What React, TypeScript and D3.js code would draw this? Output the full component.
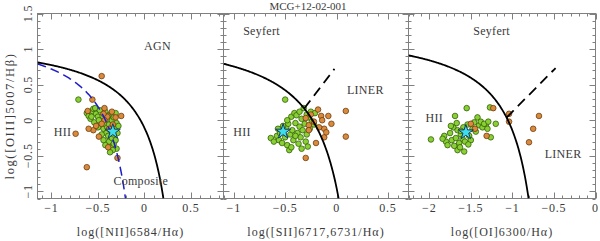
import React from "react";
import * as d3 from "d3";

// ---------- data ----------
const TITLE = "MCG+12-02-001";
const Y_DOMAIN: [number, number] = [-1.1, 1.5];
const X_DOMAIN_NII: [number, number] = [-1.15, 0.85];
const X_DOMAIN_SII: [number, number] = [-1.1, 0.7];
const X_DOMAIN_OI: [number, number] = [-2.25, 0];

const X_LABELS_NII = [-1, -0.5, 0, 0.5];
const X_LABELS_SII = [-1, -0.5, 0, 0.5];
const X_LABELS_OI = [-2, -1.5, -1, -0.5, 0];
const Y_LABELS = [-1, -0.5, 0, 0.5, 1, 1.5];

const X_TITLES = ["log([NII]6584/H\u03b1)", "log([SII]6717,6731/H\u03b1)", "log([OI]6300/H\u03b1)"];
const Y_TITLE = "log([OIII]5007/H\u03b2)";

// demarcation constants: y = a/(x - b) + c
const KEWLEY_NII = [0.61, 0.47, 1.19];
const KAUFF_NII = [0.61, 0.05, 1.3];
const KEWLEY_SII = [0.72, 0.32, 1.3];
const KEWLEY_OI = [0.73, -0.505, 1.33];
// Seyfert/LINER lines: y = m x + q, up to xEnd
const SEYLIN_SII = [1.89, 0.76, -0.02];
const SEYLIN_OI = [1.18, 1.3, -0.48];

const niiGreen: [number, number][] = [
  [-0.71, 0.29], [-0.62, 0.1], [-0.6, 0.06], [-0.58, 0.02], [-0.56, 0.13], [-0.55, 0.16],
  [-0.53, 0.17], [-0.52, 0.09], [-0.5, 0.05], [-0.48, 0.14], [-0.47, -0.02], [-0.46, -0.08],
  [-0.45, 0.06], [-0.44, -0.12], [-0.43, -0.05], [-0.42, 0.12], [-0.41, -0.18], [-0.4, -0.1],
  [-0.4, 0.02], [-0.39, -0.22], [-0.38, -0.06], [-0.38, -0.3], [-0.37, 0.08], [-0.36, -0.14],
  [-0.36, -0.38], [-0.35, -0.25], [-0.35, 0.0], [-0.34, -0.08], [-0.33, -0.2], [-0.33, -0.33],
  [-0.32, -0.12], [-0.31, 0.1], [-0.31, -0.28], [-0.3, -0.04], [-0.3, -0.4], [-0.29, -0.18],
  [-0.28, -0.08], [-0.34, -0.42], [-0.44, -0.28], [-0.46, -0.2], [-0.5, -0.1], [-0.54, -0.03],
  [-0.57, 0.05], [-0.49, 0.0], [-0.42, -0.35], [-0.39, 0.06], [-0.33, 0.04], [-0.37, -0.45],
];
const niiOrange: [number, number][] = [
  [-0.46, 0.62], [-0.56, 0.29], [-0.74, -0.19], [-0.62, -0.66], [-0.29, -0.53], [-0.25, 0.06],
  [-0.43, 0.17], [-0.61, 0.13], [-0.55, -0.14], [-0.49, -0.23], [-0.31, 0.04], [-0.4, 0.05],
  [-0.43, 0.0], [-0.46, -0.05], [-0.38, -0.12], [-0.34, -0.06], [-0.6, -0.12], [-0.52, -0.08],
  [-0.35, 0.12], [-0.39, -0.38], [-0.44, 0.09],
];
const niiStar: [number, number] = [-0.34, -0.16];

const siiGreen: [number, number][] = [
  [-0.5, 0.29], [-0.64, -0.25], [-0.61, -0.3], [-0.58, -0.22], [-0.56, -0.28], [-0.55, -0.18],
  [-0.53, -0.32], [-0.5, -0.24], [-0.49, -0.1], [-0.48, -0.35], [-0.47, -0.05], [-0.46, -0.42],
  [-0.45, -0.2], [-0.44, 0.05], [-0.43, -0.14], [-0.42, -0.28], [-0.41, 0.1], [-0.4, -0.04],
  [-0.39, 0.07], [-0.38, -0.18], [-0.37, -0.33], [-0.36, 0.12], [-0.36, -0.09], [-0.35, -0.24],
  [-0.34, 0.02], [-0.33, -0.14], [-0.32, 0.17], [-0.31, -0.05], [-0.3, -0.3], [-0.29, 0.08],
  [-0.28, -0.37], [-0.27, 0.04], [-0.26, -0.12], [-0.25, 0.12], [-0.24, -0.02], [-0.22, -0.06],
  [-0.21, 0.1], [-0.52, -0.08], [-0.44, -0.38], [-0.57, -0.12], [-0.4, -0.22], [-0.34, -0.4],
  [-0.48, 0.0], [-0.29, -0.2],
];
const siiOrange: [number, number][] = [
  [0.09, 0.13], [0.09, -0.23], [-0.3, -0.53], [-0.18, 0.15], [-0.15, 0.06], [-0.08, 0.06],
  [-0.12, -0.12], [-0.2, -0.32], [-0.12, -0.24], [-0.27, -0.07], [-0.3, 0.03], [-0.27, -0.14],
  [-0.22, -0.02], [-0.17, -0.1], [-0.1, -0.17], [-0.14, 0.0], [-0.25, 0.08], [-0.05, -0.05],
];
const siiStar: [number, number] = [-0.52, -0.16];

const oiGreen: [number, number][] = [
  [-1.98, -0.27], [-1.55, 0.17], [-1.69, 0.06], [-1.27, 0.18], [-1.2, -0.05], [-1.42, 0.04],
  [-1.26, -0.24], [-1.66, -0.42], [-1.32, -0.07], [-1.82, -0.22], [-1.8, -0.3], [-1.78, -0.35],
  [-1.75, -0.18], [-1.73, -0.28], [-1.71, -0.1], [-1.7, -0.36], [-1.68, -0.25], [-1.66, -0.14],
  [-1.64, -0.32], [-1.63, -0.38], [-1.62, -0.2], [-1.6, -0.26], [-1.59, -0.1], [-1.57, -0.3],
  [-1.54, -0.06], [-1.52, -0.22], [-1.5, -0.28], [-1.48, -0.12], [-1.46, -0.03], [-1.44, -0.16],
  [-1.4, -0.07], [-1.38, -0.02], [-1.36, -0.1], [-1.34, -0.05], [-1.3, -0.12], [-1.29, -0.02],
  [-1.74, -0.08], [-1.84, -0.26], [-1.58, -0.44], [-1.53, -0.34], [-1.67, -0.04], [-1.62, -0.15],
];
const oiOrange: [number, number][] = [
  [-0.68, 0.06], [-0.75, -0.12], [-0.8, -0.31], [-1.04, 0.09], [-1.04, -0.02], [-1.23, 0.17],
  [-1.31, -0.22], [-1.5, -0.05], [-1.45, -0.12],
];
const oiStar: [number, number] = [-1.56, -0.17];

// region annotations [text, x, y]
const NII_NOTES: [string, number, number][] = [["AGN", 0.14, 1.05], ["HII", -0.88, -0.17], ["Composite", -0.04, -0.86]];
const SII_NOTES: [string, number, number][] = [["Seyfert", -0.73, 1.25], ["LINER", 0.28, 0.42], ["HII", -0.92, -0.17]];
const OI_NOTES: [string, number, number][] = [["Seyfert", -1.25, 1.25], ["HII", -1.94, 0.03], ["LINER", -0.39, -0.47]];

// ---------- layout ----------
const TOP = 13.5;
const BOTTOM = 198.5;
const EDGES = [37.5, 223.5, 408.5, 595.5];
const FONT = "'Liberation Serif', 'Times New Roman', serif";
const TXT = "#3a3a3a";
const FRAME = "#808080";
const GREEN_FILL = "#8ad034";
const GREEN_STROKE = "#345f0a";
const ORANGE_FILL = "#d98a3c";
const ORANGE_STROKE = "#6e3d10";

const yScale = d3.scaleLinear().domain(Y_DOMAIN).range([BOTTOM, TOP]);

function tickValues(domain: [number, number], step: number) {
  const a = Math.ceil(domain[0] / step - 1e-6);
  const b = Math.floor(domain[1] / step + 1e-6);
  return d3.range(a, b + 1).map((i) => +(i * step).toFixed(4));
}

function fmt(v: number) {
  return v < 0 ? "\u2212" + String(Math.abs(v)) : String(v);
}

function hyper(c: number[]) {
  return (x: number) => c[0] / (x - c[1]) + c[2];
}

function intersect(f: (x: number) => number, g: (x: number) => number, lo: number, hi: number) {
  let a = lo, b = hi;
  const h = (x: number) => f(x) - g(x);
  for (let i = 0; i < 60; i++) {
    const m = (a + b) / 2;
    if (Math.sign(h(m)) === Math.sign(h(a))) a = m; else b = m;
  }
  return (a + b) / 2;
}

interface PanelProps {
  idx: number;
  xDomain: [number, number];
  xLabels: number[];
  xTitle: string;
  green: [number, number][];
  orange: [number, number][];
  star: [number, number];
  notes: [string, number, number][];
  lines: (x: d3.ScaleLinear<number, number>) => React.ReactNode;
}

function Panel({ idx, xDomain, xLabels, xTitle, green, orange, star, notes, lines }: PanelProps) {
  const x0 = EDGES[idx];
  const x1 = EDGES[idx + 1];
  const x = d3.scaleLinear().domain(xDomain).range([x0, x1]);
  const xMinor = tickValues(xDomain, 0.1);
  const yMinor = tickValues(Y_DOMAIN, 0.1);
  const isMajor = (v: number) => Math.abs(v / 0.5 - Math.round(v / 0.5)) < 1e-6;
  const clipId = `clip${idx}`;
  const starPath = d3.symbol(d3.symbolStar, 70)()!;
  const cx = (x0 + x1) / 2;
  return (
    <g>
      <defs>
        <clipPath id={clipId}>
          <rect x={x0} y={TOP} width={x1 - x0} height={BOTTOM - TOP} />
        </clipPath>
      </defs>
      <rect x={x0} y={TOP} width={x1 - x0} height={BOTTOM - TOP} fill="none" stroke={FRAME} strokeWidth={1} />
      {xMinor.map((v) => {
        const L = isMajor(v) ? 6 : 3;
        const px = Math.round(x(v)) + 0.5;
        return (
          <g key={"xt" + v} stroke={FRAME} strokeWidth={1}>
            <line x1={px} x2={px} y1={BOTTOM} y2={BOTTOM - L} />
            <line x1={px} x2={px} y1={TOP} y2={TOP + L} />
          </g>
        );
      })}
      {yMinor.map((v) => {
        const L = isMajor(v) ? 6 : 3;
        const py = Math.round(yScale(v)) + 0.5;
        return (
          <g key={"yt" + v} stroke={FRAME} strokeWidth={1}>
            <line x1={x0} x2={x0 + L} y1={py} y2={py} />
            <line x1={x1} x2={x1 - L} y1={py} y2={py} />
          </g>
        );
      })}
      <g clipPath={`url(#${clipId})`}>
        {green.map((d, i) => (
          <circle key={"g" + i} cx={x(d[0])} cy={yScale(d[1])} r={2.8} fill={GREEN_FILL} stroke={GREEN_STROKE} strokeWidth={0.8} />
        ))}
        {orange.map((d, i) => (
          <circle key={"o" + i} cx={x(d[0])} cy={yScale(d[1])} r={2.8} fill={ORANGE_FILL} stroke={ORANGE_STROKE} strokeWidth={0.8} />
        ))}
        {lines(x)}
        <path d={starPath} transform={`translate(${x(star[0])},${yScale(star[1])})`} fill="#3fdcee" stroke="#123a5a" strokeWidth={1} />
      </g>
      {notes.map(([t, nx, ny]) => (
        <text key={t} x={x(nx)} y={yScale(ny) + 4} textAnchor="middle" fontFamily={FONT} fontSize={12} letterSpacing={0.3} fill={TXT}>
          {t}
        </text>
      ))}
      {xLabels.map((v) => (
        <text key={"xl" + v} x={x(v)} y={212} textAnchor="middle" fontFamily={FONT} fontSize={12} letterSpacing={0.8} fill={TXT}>
          {fmt(v)}
        </text>
      ))}
      <text x={cx} y={236} textAnchor="middle" fontFamily={FONT} fontSize={12} letterSpacing={1} fill={TXT}>
        {xTitle}
      </text>
    </g>
  );
}

function curvePath(f: (x: number) => number, xa: number, xb: number, x: d3.ScaleLinear<number, number>) {
  const pts = d3.range(0, 201).map((i) => {
    const xv = xa + ((xb - xa) * i) / 200;
    return [x(xv), yScale(f(xv))] as [number, number];
  });
  return d3.line()(pts)!;
}

export default function App() {
  const kNII = hyper(KEWLEY_NII);
  const kaNII = hyper(KAUFF_NII);
  const kSII = hyper(KEWLEY_SII);
  const kOI = hyper(KEWLEY_OI);
  const yMin = Y_DOMAIN[0];
  const xBottom = (c: number[]) => c[0] / (yMin - c[2]) + c[1];

  const sylSII = (xv: number) => SEYLIN_SII[0] * xv + SEYLIN_SII[1];
  const sylOI = (xv: number) => SEYLIN_OI[0] * xv + SEYLIN_OI[1];
  const xsSII = intersect(kSII, sylSII, -1.0, 0.0);
  const xsOI = intersect(kOI, sylOI, -1.8, -0.7);

  return (
    <svg width={600} height={241} style={{ position: "absolute", left: 0, top: 0, background: "#fff" }}>
      <rect x={0} y={0} width={600} height={241} fill="#fff" />
      <text x={308} y={10} textAnchor="middle" fontFamily={FONT} fontSize={11} fill={TXT}>{TITLE}</text>
      {Y_LABELS.map((v) => (
        <text key={"yl" + v} transform={`translate(32,${yScale(v)}) rotate(-90)`} textAnchor="middle" fontFamily={FONT} fontSize={12} letterSpacing={0.8} fill={TXT}>
          {fmt(v)}
        </text>
      ))}
      <text transform={`translate(14,116) rotate(-90)`} textAnchor="middle" fontFamily={FONT} fontSize={12.5} letterSpacing={1.6} fill={TXT}>
        {Y_TITLE}
      </text>
      <Panel
        idx={0}
        xDomain={X_DOMAIN_NII}
        xLabels={X_LABELS_NII}
        xTitle={X_TITLES[0]}
        green={niiGreen}
        orange={niiOrange}
        star={niiStar}
        notes={NII_NOTES}
        lines={(x) => (
          <g fill="none">
            <path d={curvePath(kaNII, X_DOMAIN_NII[0], xBottom(KAUFF_NII), x)} stroke="#1c1cc8" strokeWidth={1.5} strokeDasharray="9,5" />
            <path d={curvePath(kNII, X_DOMAIN_NII[0], xBottom(KEWLEY_NII), x)} stroke="#000" strokeWidth={1.8} />
          </g>
        )}
      />
      <Panel
        idx={1}
        xDomain={X_DOMAIN_SII}
        xLabels={X_LABELS_SII}
        xTitle={X_TITLES[1]}
        green={siiGreen}
        orange={siiOrange}
        star={siiStar}
        notes={SII_NOTES}
        lines={(x) => (
          <g fill="none">
            <path d={curvePath(kSII, X_DOMAIN_SII[0], xBottom(KEWLEY_SII), x)} stroke="#000" strokeWidth={1.8} />
            <path d={curvePath(sylSII, xsSII, SEYLIN_SII[2], x)} stroke="#000" strokeWidth={1.8} strokeDasharray="10,6" />
          </g>
        )}
      />
      <Panel
        idx={2}
        xDomain={X_DOMAIN_OI}
        xLabels={X_LABELS_OI}
        xTitle={X_TITLES[2]}
        green={oiGreen}
        orange={oiOrange}
        star={oiStar}
        notes={OI_NOTES}
        lines={(x) => (
          <g fill="none">
            <path d={curvePath(kOI, X_DOMAIN_OI[0], xBottom(KEWLEY_OI), x)} stroke="#000" strokeWidth={1.8} />
            <path d={curvePath(sylOI, xsOI, SEYLIN_OI[2], x)} stroke="#000" strokeWidth={1.8} strokeDasharray="10,6" />
          </g>
        )}
      />
    </svg>
  );
}
